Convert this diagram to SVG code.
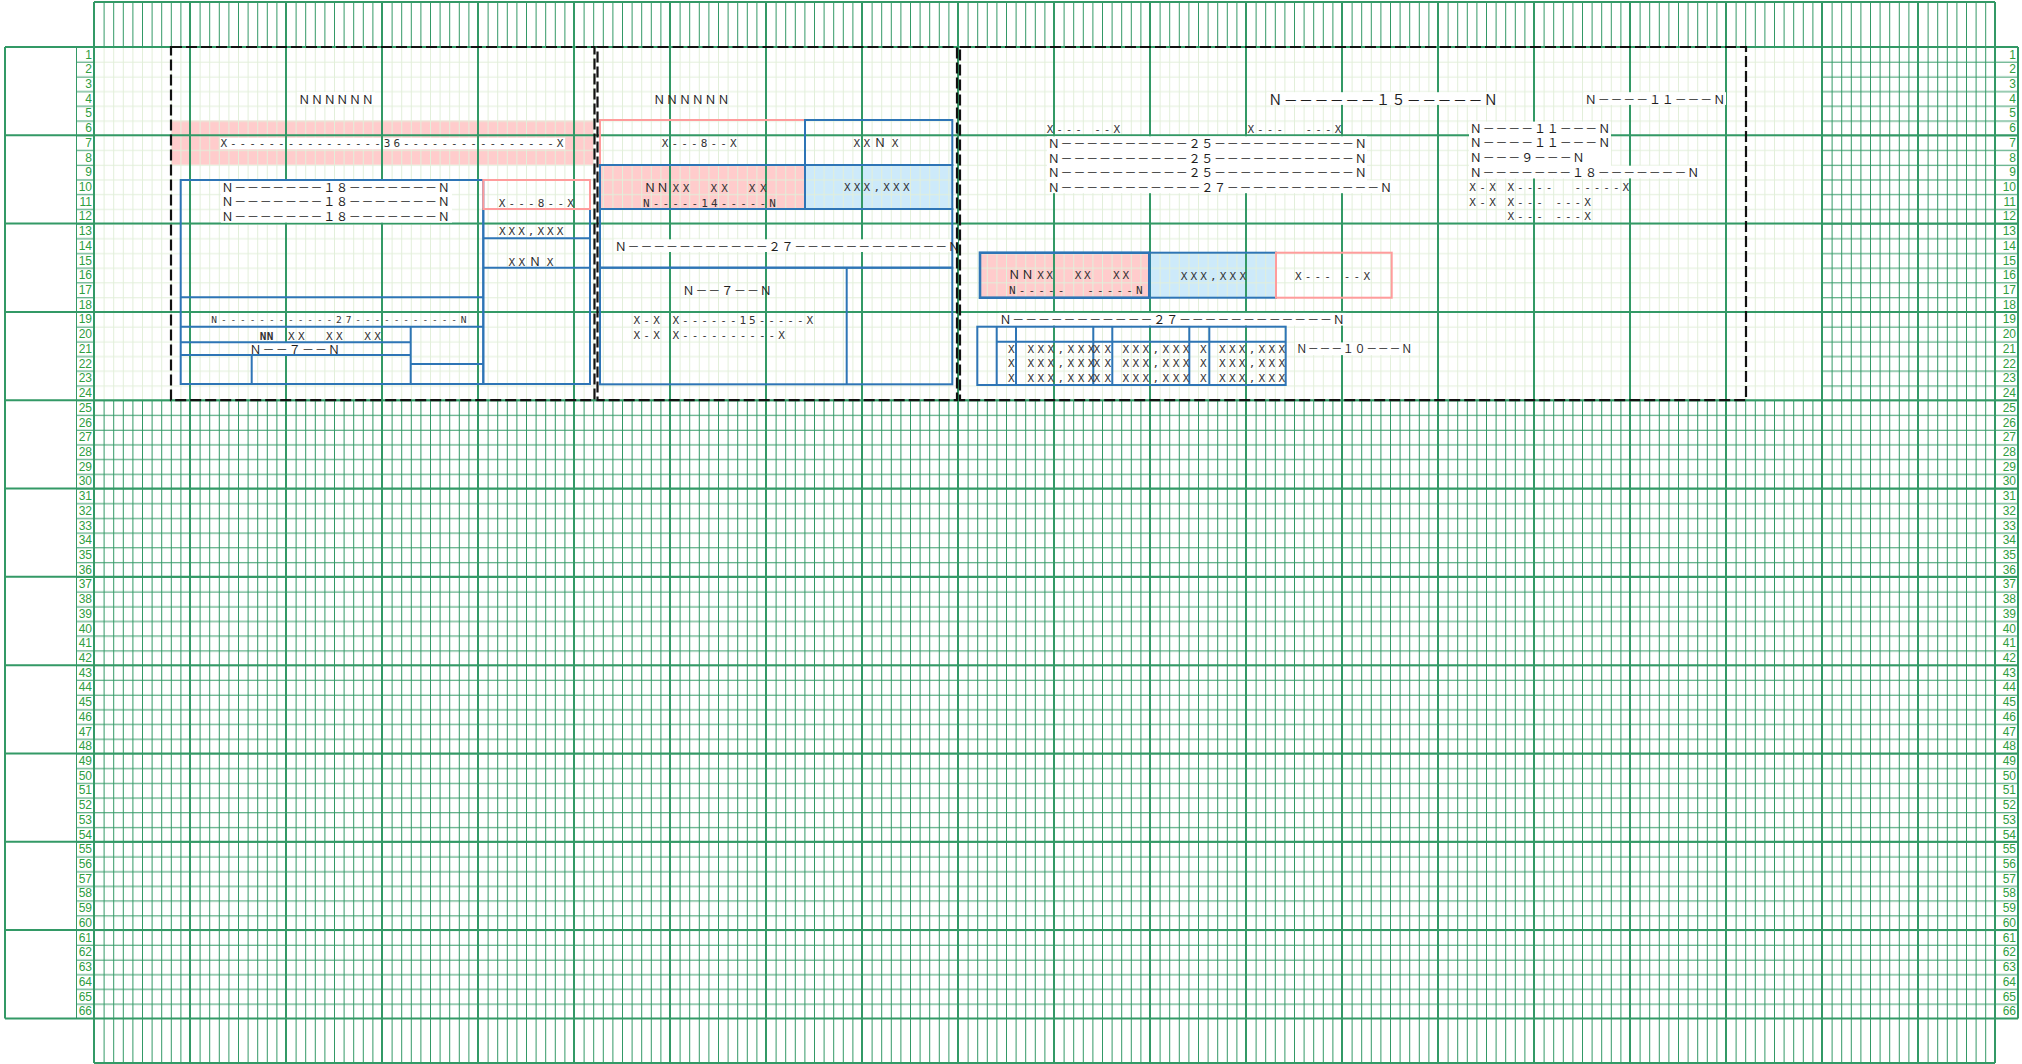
<svg xmlns="http://www.w3.org/2000/svg" width="2022" height="1064" viewBox="0 0 2022 1064">
<defs>
<style>
.fw{font-family:'Noto Sans CJK JP','Noto Sans',sans-serif;font-size:12px;fill:#1e1e1e}
.hw{font-family:'DejaVu Sans Mono','Liberation Mono',monospace;font-size:11px;fill:#333}
.num{font-family:'Liberation Sans',Arial,sans-serif;font-size:12px;fill:#2f9e3f;text-anchor:end}
.bx{fill:none;stroke:#2e75b6;stroke-width:2}
.pk{fill:none;stroke:#ff9c9c;stroke-width:2}
.pn{fill:none;stroke:#111;stroke-width:2.2;stroke-dasharray:11 4}
.wb{fill:#fff}
.pf{fill:#ffcccc}
.bf{fill:#cdeafa}
</style>
<pattern id="gl" patternUnits="userSpaceOnUse" x="94" y="47" width="96" height="88.308">
<path d="M.5 0V88.308M10.1 0V88.308M19.7 0V88.308M29.3 0V88.308M38.9 0V88.308M48.5 0V88.308M58.1 0V88.308M67.7 0V88.308M77.3 0V88.308M86.9 0V88.308M0 .5H96M0 15.218H96M0 29.936H96M0 44.654H96M0 59.372H96M0 74.09H96" stroke="#e2efda" stroke-width="1" fill="none"/>
</pattern>
<pattern id="gd" patternUnits="userSpaceOnUse" x="94" y="47" width="96" height="88.308">
<path d="M.5 0V88.308M10.1 0V88.308M19.7 0V88.308M29.3 0V88.308M38.9 0V88.308M48.5 0V88.308M58.1 0V88.308M67.7 0V88.308M77.3 0V88.308M86.9 0V88.308M0 .5H96M0 15.218H96M0 29.936H96M0 44.654H96M0 59.372H96M0 74.09H96" stroke="#339966" stroke-width="1" fill="none"/>
</pattern>
<pattern id="gv" patternUnits="userSpaceOnUse" x="94" y="0" width="96" height="1064">
<path d="M.5 0V1064M10.1 0V1064M19.7 0V1064M29.3 0V1064M38.9 0V1064M48.5 0V1064M58.1 0V1064M67.7 0V1064M77.3 0V1064M86.9 0V1064" stroke="#339966" stroke-width="1" fill="none"/>
</pattern>
<pattern id="gh" patternUnits="userSpaceOnUse" x="0" y="47" width="2022" height="88.308">
<path d="M0 .5H2022M0 15.218H2022M0 29.936H2022M0 44.654H2022M0 59.372H2022M0 74.09H2022" stroke="#339966" stroke-width="1" fill="none"/>
</pattern>
</defs>
<rect width="2022" height="1064" fill="#fff"/>
<g id="fills">
<rect class="pf" x="171" y="120.6" width="422" height="44.2"/>
<rect class="pf" x="600" y="165" width="205" height="44"/>
<rect class="bf" x="805" y="165" width="147.3" height="44"/>
<rect class="pf" x="980" y="252.7" width="169.3" height="45"/>
<rect class="bf" x="1149.3" y="252.7" width="126.7" height="45"/>
</g>
<g id="grid">
<rect x="94" y="47" width="1728" height="353.23" fill="url(#gl)"/>
<rect x="1822" y="47" width="173" height="353.23" fill="url(#gd)"/>
<rect x="94" y="400.23" width="1901" height="618.16" fill="url(#gd)"/>
<rect x="94" y="2" width="1901" height="45" fill="url(#gv)"/>
<rect x="94" y="1018.4" width="1901" height="44.6" fill="url(#gv)"/>
<rect x="76" y="47" width="18" height="971.4" fill="url(#gh)"/>
<rect x="1995" y="47" width="23" height="971.4" fill="url(#gh)"/>
<rect class="wb" x="220" y="137.7" width="345" height="11.6"/>
<path d="M94 2V1063M190 2V1063M286 2V1063M382 2V1063M478 2V1063M574 2V1063M670 2V1063M766 2V1063M862 2V1063M958 2V1063M1054 2V1063M1150 2V1063M1246 2V1063M1342 2V1063M1438 2V1063M1534 2V1063M1630 2V1063M1726 2V1063M1822 2V1063M1918 2V1063M1995 2V1063M94 2H1995M94 1063H1995M5 47H2018M5 135.31H2018M5 223.62H2018M5 311.92H2018M5 400.23H2018M5 488.54H2018M5 576.85H2018M5 665.16H2018M5 753.46H2018M5 841.77H2018M5 930.08H2018M5 1018.39H2018M5 47V1018.39M2018 47V1018.39" stroke="#339966" stroke-width="2" fill="none"/>
<path d="M76.5 47V1018.4" stroke="#339966" stroke-width="1"/>
<g class="wb">
<rect x="297" y="92.2" width="78" height="12.7"/>
<rect x="221" y="180.5" width="231" height="42.1"/>
<rect x="249" y="342.4" width="92" height="12.7"/>
<rect x="614" y="239.3" width="344" height="12.7"/>
<rect x="1267" y="92.2" width="232" height="12.7"/>
<rect x="1584" y="92.2" width="142" height="12.7"/>
<rect x="1047" y="136.3" width="320" height="56.9"/>
<rect x="1367" y="180.5" width="26" height="12.7"/>
<rect x="1469" y="121.6" width="142" height="56.9"/>
<rect x="1611" y="165.7" width="89" height="12.7"/>
<rect x="999" y="312.9" width="347" height="12.7"/>
<rect x="1295" y="342.4" width="118" height="12.7"/>
</g>
</g>
<g id="rownums-left" class="num">
<text><tspan x="92" y="58.5">1</tspan><tspan x="92" y="73.2">2</tspan><tspan x="92" y="88">3</tspan><tspan x="92" y="102.7">4</tspan><tspan x="92" y="117.4">5</tspan><tspan x="92" y="132.1">6</tspan><tspan x="92" y="146.8">7</tspan><tspan x="92" y="161.5">8</tspan><tspan x="92" y="176.3">9</tspan><tspan x="92" y="191">10</tspan><tspan x="92" y="205.7">11</tspan><tspan x="92" y="220.4">12</tspan><tspan x="92" y="235.1">13</tspan><tspan x="92" y="249.9">14</tspan><tspan x="92" y="264.6">15</tspan><tspan x="92" y="279.3">16</tspan><tspan x="92" y="294">17</tspan><tspan x="92" y="308.7">18</tspan><tspan x="92" y="323.4">19</tspan><tspan x="92" y="338.2">20</tspan><tspan x="92" y="352.9">21</tspan><tspan x="92" y="367.6">22</tspan><tspan x="92" y="382.3">23</tspan><tspan x="92" y="397">24</tspan><tspan x="92" y="411.8">25</tspan><tspan x="92" y="426.5">26</tspan><tspan x="92" y="441.2">27</tspan><tspan x="92" y="455.9">28</tspan><tspan x="92" y="470.6">29</tspan><tspan x="92" y="485.3">30</tspan><tspan x="92" y="500.1">31</tspan><tspan x="92" y="514.8">32</tspan><tspan x="92" y="529.5">33</tspan><tspan x="92" y="544.2">34</tspan><tspan x="92" y="558.9">35</tspan><tspan x="92" y="573.7">36</tspan><tspan x="92" y="588.4">37</tspan><tspan x="92" y="603.1">38</tspan><tspan x="92" y="617.8">39</tspan><tspan x="92" y="632.5">40</tspan><tspan x="92" y="647.2">41</tspan><tspan x="92" y="662">42</tspan><tspan x="92" y="676.7">43</tspan><tspan x="92" y="691.4">44</tspan><tspan x="92" y="706.1">45</tspan><tspan x="92" y="720.8">46</tspan><tspan x="92" y="735.5">47</tspan><tspan x="92" y="750.3">48</tspan><tspan x="92" y="765">49</tspan><tspan x="92" y="779.7">50</tspan><tspan x="92" y="794.4">51</tspan><tspan x="92" y="809.1">52</tspan><tspan x="92" y="823.9">53</tspan><tspan x="92" y="838.6">54</tspan><tspan x="92" y="853.3">55</tspan><tspan x="92" y="868">56</tspan><tspan x="92" y="882.7">57</tspan><tspan x="92" y="897.4">58</tspan><tspan x="92" y="912.2">59</tspan><tspan x="92" y="926.9">60</tspan><tspan x="92" y="941.6">61</tspan><tspan x="92" y="956.3">62</tspan><tspan x="92" y="971">63</tspan><tspan x="92" y="985.8">64</tspan><tspan x="92" y="1000.5">65</tspan><tspan x="92" y="1015.2">66</tspan></text>
</g>
<g id="rownums-right" class="num">
<text><tspan x="2016" y="58.5">1</tspan><tspan x="2016" y="73.2">2</tspan><tspan x="2016" y="88">3</tspan><tspan x="2016" y="102.7">4</tspan><tspan x="2016" y="117.4">5</tspan><tspan x="2016" y="132.1">6</tspan><tspan x="2016" y="146.8">7</tspan><tspan x="2016" y="161.5">8</tspan><tspan x="2016" y="176.3">9</tspan><tspan x="2016" y="191">10</tspan><tspan x="2016" y="205.7">11</tspan><tspan x="2016" y="220.4">12</tspan><tspan x="2016" y="235.1">13</tspan><tspan x="2016" y="249.9">14</tspan><tspan x="2016" y="264.6">15</tspan><tspan x="2016" y="279.3">16</tspan><tspan x="2016" y="294">17</tspan><tspan x="2016" y="308.7">18</tspan><tspan x="2016" y="323.4">19</tspan><tspan x="2016" y="338.2">20</tspan><tspan x="2016" y="352.9">21</tspan><tspan x="2016" y="367.6">22</tspan><tspan x="2016" y="382.3">23</tspan><tspan x="2016" y="397">24</tspan><tspan x="2016" y="411.8">25</tspan><tspan x="2016" y="426.5">26</tspan><tspan x="2016" y="441.2">27</tspan><tspan x="2016" y="455.9">28</tspan><tspan x="2016" y="470.6">29</tspan><tspan x="2016" y="485.3">30</tspan><tspan x="2016" y="500.1">31</tspan><tspan x="2016" y="514.8">32</tspan><tspan x="2016" y="529.5">33</tspan><tspan x="2016" y="544.2">34</tspan><tspan x="2016" y="558.9">35</tspan><tspan x="2016" y="573.7">36</tspan><tspan x="2016" y="588.4">37</tspan><tspan x="2016" y="603.1">38</tspan><tspan x="2016" y="617.8">39</tspan><tspan x="2016" y="632.5">40</tspan><tspan x="2016" y="647.2">41</tspan><tspan x="2016" y="662">42</tspan><tspan x="2016" y="676.7">43</tspan><tspan x="2016" y="691.4">44</tspan><tspan x="2016" y="706.1">45</tspan><tspan x="2016" y="720.8">46</tspan><tspan x="2016" y="735.5">47</tspan><tspan x="2016" y="750.3">48</tspan><tspan x="2016" y="765">49</tspan><tspan x="2016" y="779.7">50</tspan><tspan x="2016" y="794.4">51</tspan><tspan x="2016" y="809.1">52</tspan><tspan x="2016" y="823.9">53</tspan><tspan x="2016" y="838.6">54</tspan><tspan x="2016" y="853.3">55</tspan><tspan x="2016" y="868">56</tspan><tspan x="2016" y="882.7">57</tspan><tspan x="2016" y="897.4">58</tspan><tspan x="2016" y="912.2">59</tspan><tspan x="2016" y="926.9">60</tspan><tspan x="2016" y="941.6">61</tspan><tspan x="2016" y="956.3">62</tspan><tspan x="2016" y="971">63</tspan><tspan x="2016" y="985.8">64</tspan><tspan x="2016" y="1000.5">65</tspan><tspan x="2016" y="1015.2">66</tspan></text>
</g>
<g id="p1-header">
<text class="fw" x="298.3" y="104" textLength="75.4" lengthAdjust="spacing">ＮＮＮＮＮＮ</text>
<text class="hw" x="220.4" y="147.3" textLength="343" lengthAdjust="spacing">X----------------36----------------X</text>
</g>
<g id="p1-main">
<rect class="bx" x="180.7" y="180" width="302.6" height="204"/>
<path class="bx" d="M180.7 297.3H483.3M180.7 326.7H483.3M180.7 342.3H410.7M180.7 355H410.7M410.7 326.7V384M251.7 355V384M410.7 364H483.3"/>
<text class="fw" x="221.5" y="191.6" textLength="228.2" lengthAdjust="spacing">Ｎ－－－－－－－１８－－－－－－－Ｎ</text>
<text class="fw" x="221.5" y="206.3" textLength="228.2" lengthAdjust="spacing">Ｎ－－－－－－－１８－－－－－－－Ｎ</text>
<text class="fw" x="221.5" y="220.8" textLength="228.2" lengthAdjust="spacing">Ｎ－－－－－－－１８－－－－－－－Ｎ</text>
<text class="hw" x="211.3" y="322.7" style="font-size:9.5px" textLength="255.3" lengthAdjust="spacing">N------------27-----------N</text>
<text class="hw" y="340"><tspan x="259.7 266.7" font-weight="bold">NN</tspan> <tspan x="287.9 297.9">XX</tspan> <tspan x="325.9 335.9">XX</tspan> <tspan x="364.2 374.2">XX</tspan></text>
<text class="fw" x="249.5" y="354" textLength="90.6" lengthAdjust="spacing">Ｎ－－７－－Ｎ</text>
</g>
<g id="p1-side">
<rect class="bx" x="483.3" y="209" width="106.7" height="175"/>
<path class="bx" d="M483.3 238.3H590M483.3 267.7H590"/>
<rect class="pk" x="483.3" y="180" width="106.7" height="29"/>
<text class="hw" x="498.7" y="206.7" textLength="75.1" lengthAdjust="spacing">X---8--X</text>
<text class="hw" x="499" y="235" textLength="64.3" lengthAdjust="spacing">XXX,XXX</text>
<text y="265.5"><tspan class="hw" x="508.4 518.4">XX</tspan><tspan class="fw" x="529">Ｎ</tspan><tspan class="hw" x="546.7">X</tspan></text>
</g>
<g id="p2-header">
<text class="fw" x="653.3" y="104" textLength="76.1" lengthAdjust="spacing">ＮＮＮＮＮＮ</text>
<rect class="pk" x="600" y="120" width="205" height="45"/>
<rect class="bx" x="805" y="120" width="147.3" height="45"/>
<text class="hw" x="661.7" y="147.3" textLength="74.9" lengthAdjust="spacing">X---8--X</text>
<text y="147.3"><tspan class="hw" x="853.4 863.4">XX</tspan><tspan class="fw" x="874">Ｎ</tspan><tspan class="hw" x="891.7">X</tspan></text>
</g>
<g id="p2-date">
<rect class="bx" x="600" y="165" width="205" height="44"/>
<rect class="bx" x="805" y="165" width="147.3" height="44"/>
<text y="191.5"><tspan class="fw" x="644 656.5">ＮＮ</tspan> <tspan class="hw" x="672.4 682.7">XX</tspan> <tspan class="hw" x="710.5 721.2">XX</tspan> <tspan class="hw" x="748.7 759.9">XX</tspan></text>
<text class="hw" x="643" y="206.5" textLength="132.9" lengthAdjust="spacing">N-----14-----N</text>
<text class="hw" x="843.9" y="190.7" textLength="65.6" lengthAdjust="spacing">XXX,XXX</text>
</g>
<g id="p2-body">
<rect class="bx" x="600" y="209" width="352.3" height="58.7"/>
<rect class="bx" x="600" y="267.7" width="352.3" height="116.6"/>
<path class="bx" d="M846.7 267.7V384.3"/>
<text class="fw" x="614.8" y="250.7" textLength="345.3" lengthAdjust="spacing">Ｎ－－－－－－－－－－－２７－－－－－－－－－－－－Ｎ</text>
<text class="fw" x="682.5" y="295" textLength="89.3" lengthAdjust="spacing">Ｎ－－７－－Ｎ</text>
<text class="hw" x="633.5" y="324" textLength="26.3" lengthAdjust="spacing">X-X</text>
<text class="hw" x="672.5" y="324" textLength="140.6" lengthAdjust="spacing">X------15-----X</text>
<text class="hw" x="633.5" y="339.3" textLength="26.3" lengthAdjust="spacing">X-X</text>
<text class="hw" x="672.5" y="339.3" textLength="112.3" lengthAdjust="spacing">X----------X</text>
</g>
<g id="p3-header">
<text class="fw" x="1268.3" y="105" style="font-size:14px" textLength="229.5" lengthAdjust="spacing">Ｎ－－－－－－１５－－－－－Ｎ</text>
<text class="fw" x="1584.8" y="104" textLength="140.4" lengthAdjust="spacing">Ｎ－－－－１１－－－Ｎ</text>
<text class="hw" x="1046.7" y="132.5" textLength="73.3" lengthAdjust="spacing" xml:space="preserve">X--- --X</text>
<text class="hw" x="1247.4" y="132.5" textLength="93.9" lengthAdjust="spacing" xml:space="preserve">X---  ---X</text>
<text class="fw" x="1047.8" y="148.3" textLength="319" lengthAdjust="spacing">Ｎ－－－－－－－－－－２５－－－－－－－－－－－Ｎ</text>
<text class="fw" x="1047.8" y="162.7" textLength="319" lengthAdjust="spacing">Ｎ－－－－－－－－－－２５－－－－－－－－－－－Ｎ</text>
<text class="fw" x="1047.8" y="176.7" textLength="319" lengthAdjust="spacing">Ｎ－－－－－－－－－－２５－－－－－－－－－－－Ｎ</text>
<text class="fw" x="1047.8" y="191.7" textLength="344.3" lengthAdjust="spacing">Ｎ－－－－－－－－－－－２７－－－－－－－－－－－－Ｎ</text>
</g>
<g id="p3-side">
<text class="fw" x="1469.8" y="133.3" textLength="140.4" lengthAdjust="spacing">Ｎ－－－－１１－－－Ｎ</text>
<text class="fw" x="1469.8" y="147.3" textLength="140.4" lengthAdjust="spacing">Ｎ－－－－１１－－－Ｎ</text>
<text class="fw" x="1469.8" y="161.7" textLength="114.7" lengthAdjust="spacing">Ｎ－－－９－－－Ｎ</text>
<text class="fw" x="1469.8" y="176.7" textLength="229.4" lengthAdjust="spacing">Ｎ－－－－－－－１８－－－－－－－Ｎ</text>
<text class="hw" x="1469.2" y="191" textLength="26.6" lengthAdjust="spacing">X-X</text>
<text class="hw" x="1507.5" y="191" textLength="121.6" lengthAdjust="spacing" xml:space="preserve">X----  -----X</text>
<text class="hw" x="1469.2" y="205.7" textLength="26.6" lengthAdjust="spacing">X-X</text>
<text class="hw" x="1507.5" y="205.7" textLength="83.3" lengthAdjust="spacing" xml:space="preserve">X--- ---X</text>
<text class="hw" x="1507.5" y="220" textLength="83.3" lengthAdjust="spacing" xml:space="preserve">X--- ---X</text>
</g>
<g id="p3-date">
<rect class="bx" x="980" y="252.7" width="169.3" height="45" style="stroke-width:2.6"/>
<rect class="bx" x="1149.3" y="252.7" width="126.7" height="45"/>
<rect class="pk" x="1276" y="252.7" width="115.7" height="45"/>
<text y="279.3"><tspan class="fw" x="1008.2 1021.5">ＮＮ</tspan> <tspan class="hw" x="1037.2 1046.2">XX</tspan> <tspan class="hw" x="1074.7 1083.9">XX</tspan> <tspan class="hw" x="1112.9 1122.5">XX</tspan></text>
<text class="hw" x="1009" y="294.3" textLength="133.6" lengthAdjust="spacing" xml:space="preserve">N-----  -----N</text>
<text class="hw" x="1180.7" y="280" textLength="65.3" lengthAdjust="spacing">XXX,XXX</text>
<text class="hw" x="1295" y="280" textLength="75" lengthAdjust="spacing" xml:space="preserve">X--- --X</text>
</g>
<g id="p3-table">
<text class="fw" x="999.5" y="324" textLength="345.3" lengthAdjust="spacing">Ｎ－－－－－－－－－－－２７－－－－－－－－－－－－Ｎ</text>
<rect class="bx" x="977.3" y="326.7" width="308.4" height="58.3"/>
<path class="bx" d="M996.7 326.7V385M1016 326.7V385M1093.3 326.7V385M1112.3 326.7V385M1189.3 326.7V385M1209.3 326.7V385M996.7 341.7H1285.7"/>
<text class="hw" x="1008" y="352.7">X</text>
<text class="hw" x="1027.4" y="352.7" textLength="66.9" lengthAdjust="spacing">XXX,XXX</text>
<text class="hw" x="1093.4" y="352.7" textLength="17.6" lengthAdjust="spacing">XX</text>
<text class="hw" x="1122.4" y="352.7" textLength="66.9" lengthAdjust="spacing">XXX,XXX</text>
<text class="hw" x="1200" y="352.7">X</text>
<text class="hw" x="1219" y="352.7" textLength="66" lengthAdjust="spacing">XXX,XXX</text>
<text class="hw" x="1008" y="366.7">X</text>
<text class="hw" x="1027.4" y="366.7" textLength="66.9" lengthAdjust="spacing">XXX,XXX</text>
<text class="hw" x="1093.4" y="366.7" textLength="17.6" lengthAdjust="spacing">XX</text>
<text class="hw" x="1122.4" y="366.7" textLength="66.9" lengthAdjust="spacing">XXX,XXX</text>
<text class="hw" x="1200" y="366.7">X</text>
<text class="hw" x="1219" y="366.7" textLength="66" lengthAdjust="spacing">XXX,XXX</text>
<text class="hw" x="1008" y="381.5">X</text>
<text class="hw" x="1027.4" y="381.5" textLength="66.9" lengthAdjust="spacing">XXX,XXX</text>
<text class="hw" x="1093.4" y="381.5" textLength="17.6" lengthAdjust="spacing">XX</text>
<text class="hw" x="1122.4" y="381.5" textLength="66.9" lengthAdjust="spacing">XXX,XXX</text>
<text class="hw" x="1200" y="381.5">X</text>
<text class="hw" x="1219" y="381.5" textLength="66" lengthAdjust="spacing">XXX,XXX</text>
<text class="fw" x="1296.2" y="352.7" style="font-size:11px" textLength="116" lengthAdjust="spacing">Ｎ－－－１０－－－Ｎ</text>
</g>
<g id="panels">
<rect class="pn" x="171" y="47" width="423.5" height="353.2"/>
<rect class="pn" x="597.5" y="47" width="359.5" height="353.2"/>
<rect class="pn" x="960" y="47" width="786" height="353.2"/>
</g>
</svg>
